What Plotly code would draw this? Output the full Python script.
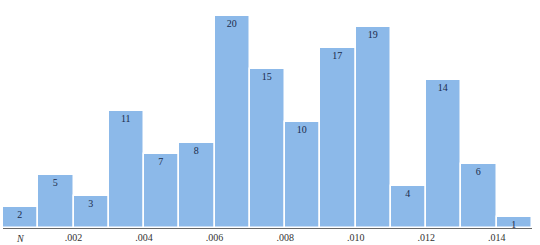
import plotly.graph_objects as go

bin_centers = [0.0005 + 0.001 * i for i in range(15)]
counts = [2, 5, 3, 11, 7, 8, 20, 15, 10, 17, 19, 4, 14, 6, 1]
tick_vals = [0.002, 0.004, 0.006, 0.008, 0.010, 0.012, 0.014]
tick_text = [".002", ".004", ".006", ".008", ".010", ".012", ".014"]
axis_label = "N"

fig = go.Figure()
fig.add_trace(go.Bar(
    x=bin_centers, y=counts, width=0.001,
    marker=dict(color="#8cb9e9", line=dict(color="white", width=1.5)),
    text=[str(c) for c in counts],
    textposition="inside", insidetextanchor="end", textangle=0,
    constraintext="none",
    textfont=dict(family="Liberation Serif", size=10, color="#1b2b4b"),
    hoverinfo="skip",
))
fig.add_annotation(x=0.0005, y=0, xref="x", yref="y", text="<i>" + axis_label + "</i>",
                   showarrow=False, yshift=-10, yanchor="middle",
                   font=dict(family="Liberation Serif", size=10, color="#333"))
fig.update_layout(
    width=540, height=245,
    margin=dict(l=3, r=8, t=16, b=17),
    paper_bgcolor="white", plot_bgcolor="white",
    showlegend=False, bargap=0,
    font=dict(family="Liberation Serif", size=10, color="#333"),
)
fig.update_xaxes(range=[0, 0.015], tickvals=tick_vals, ticktext=tick_text,
                 showgrid=False, zeroline=False, showline=True,
                 linecolor="#666", linewidth=1, ticks="", ticklen=0,
                 tickfont=dict(family="Liberation Serif", size=10, color="#333"))
fig.update_yaxes(range=[0, 20], visible=False, showgrid=False, zeroline=False)
fig.write_html("out.html")
